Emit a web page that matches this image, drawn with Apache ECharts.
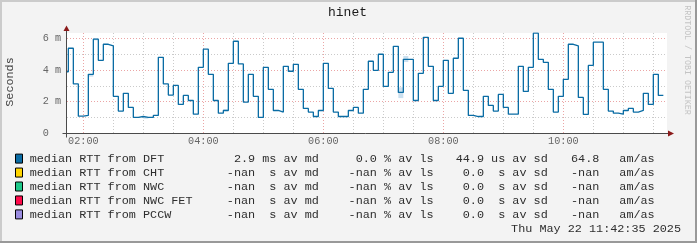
<!DOCTYPE html>
<html><head><meta charset="utf-8">
<script src="https://cdn.jsdelivr.net/npm/echarts@6/dist/echarts.min.js"></script>
<style>html,body{margin:0;padding:0;background:#F3F3F3}#c{width:697px;height:243px}</style>
</head><body><div id="c"></div>
<script>
// ---------- data ----------
const chartTitle = 'hinet';
const yAxisName = 'Seconds';
const stampText = 'Thu May 22 11:42:35 2025';
const watermark = 'RRDTOOL / TOBI OETIKER';

const startMinute = 100;      // 01:40 = start of first 5-minute step
const stepMinutes = 5;
const axisMin = 103.667;      // 01:43:40
const axisMax = 703.667;      // 11:43:40

// median RTT from DFT (ms), one value per 5-minute step
const medianDFT = [3.89,
 5.37, 3.12, 1.09, 1.14, 3.73, 5.94, 4.61, 5.62, 5.52, 2.34,
 1.41, 2.53, 1.64, 1.01, 1.07, 1.01, 1.01, 1.14, 4.80, 3.12,
 2.42, 3.03, 1.83, 2.40, 2.08, 1.22, 4.17, 5.31, 3.73, 2.08,
 1.28, 1.45, 4.42, 5.81, 4.38, 1.98, 3.73, 2.34, 1.01, 4.17,
 2.78, 1.45, 1.35, 4.23, 3.92, 4.36, 2.78, 1.58, 1.35, 1.07,
 1.45, 4.42, 2.84, 1.35, 1.07, 1.07, 1.45, 1.64, 1.28, 2.78,
 4.55, 3.98, 4.99, 2.97, 3.85, 5.49, 2.59, 4.67, 4.67, 2.08,
 3.79, 6.06, 4.23, 2.08, 2.97, 4.61, 2.53, 4.74, 6.00, 2.72,
 1.14, 1.07, 1.07, 2.34, 1.77, 1.41, 2.46, 1.64, 1.22, 1.22,
 4.23, 2.65, 4.17, 6.32, 4.67, 4.48, 2.78, 1.35, 2.34, 3.41,
 5.62, 5.52, 2.27, 1.20, 4.29, 5.75, 5.75, 2.78, 1.41, 1.28,
 1.22, 1.45, 1.58, 1.35, 1.45, 2.53, 1.83, 3.73, 2.40];

// smoke (spread) around the median: [step index, low, high] in ms
const smokeSteps = [5, 6, 16, 32, 67, 68];
const smokeLow   = [3.58, 5.87, 0.93, 1.45, 2.23, 4.50];
const smokeHigh  = [3.73, 6.00, 1.01, 1.52, 2.91, 4.88];

const xMajorMinutes = [120, 240, 360, 480, 600];
const xTickLabels = ['02:00', '04:00', '06:00', '08:00', '10:00'];
const yMax = 6.33;
const yMajorValues = [2, 4, 6];
const yMinorValues = [1, 3, 5];
const yLabelValues = [0, 2, 4, 6];
const yTickLabels = ['0  ', '2 m', '4 m', '6 m'];

const legendNames = ['median RTT from DFT', 'median RTT from CHT', 'median RTT from NWC', 'median RTT from NWC FET', 'median RTT from PCCW'];
const legendColors = ['#0a6ca4', '#FFD500', '#1FC98A', '#FF0A4A', '#9A8CE0'];
const statMedian = [' 2.9 ms av md', '-nan  s av md', '-nan  s av md', '-nan  s av md', '-nan  s av md'];
const statLoss   = [' 0.0 % av ls', '-nan % av ls', '-nan % av ls', '-nan % av ls', '-nan % av ls'];
const statSd     = ['44.9 us av sd', ' 0.0  s av sd', ' 0.0  s av sd', ' 0.0  s av sd', ' 0.0  s av sd'];
const statAmRatio = ['64.8', '-nan', '-nan', '-nan', '-nan'];
const statAmUnit = 'am/as';

// ---------- build ----------
const MONO = "'Liberation Mono','DejaVu Sans Mono',monospace";
const xMinorMinutes = [];
for (let m = 90; m < axisMax; m += 30) if (m % 120 !== 0 && m > axisMin) xMinorMinutes.push(m);

const lineData = medianDFT.map((v, i) => [startMinute + i * stepMinutes, v]);
lineData.push([startMinute + medianDFT.length * stepMinutes, medianDFT[medianDFT.length - 1]]);
const smokeData = smokeSteps.map((s, i) => [startMinute + s * stepMinutes, smokeLow[i], smokeHigh[i]]);

const chart = echarts.init(document.getElementById('c'), null, {renderer: 'canvas'});

const TEXT = '#2e2e2e';
const legendGraphics = [];
const rowY0 = 158.6, rowDy = 13.95;
legendNames.forEach((name, i) => {
  const y = rowY0 + i * rowDy;
  legendGraphics.push({type: 'rect', shape: {x: 15.5, y: y - 4.5, width: 7, height: 9},
    style: {fill: legendColors[i], stroke: '#000', lineWidth: 1}});
  const cols = [[29.7, name], [226.8, statMedian[i]], [348.6, statLoss[i]], [455.7, statSd[i]], [571, statAmRatio[i]], [619.3, statAmUnit]];
  cols.forEach(([x, t]) => legendGraphics.push({type: 'text', x: x, y: y,
    style: {text: t, fill: TEXT, font: '11.8px ' + MONO, textVerticalAlign: 'middle', textAlign: 'left'}}));
});

const option = {
  animation: false,
  backgroundColor: '#F3F3F3',
  grid: {left: 67, top: 33, width: 600, height: 100.5, show: true, backgroundColor: '#FFFFFF', borderWidth: 0},
  xAxis: [
    {type: 'value', min: axisMin, max: axisMax, position: 'bottom',
     axisLine: {show: false}, axisTick: {show: false, customValues: xMajorMinutes},
     splitLine: {show: true, lineStyle: {color: '#EBA5A5', type: [1, 2], width: 1}},
     axisLabel: {customValues: xMajorMinutes, margin: 3, color: '#666', fontFamily: MONO, fontSize: 10.2,
       formatter: v => xTickLabels[xMajorMinutes.indexOf(v)]}},
    {type: 'value', min: axisMin, max: axisMax, position: 'bottom',
     axisLine: {show: false}, axisTick: {show: false, customValues: xMinorMinutes}, axisLabel: {show: false},
     splitLine: {show: true, lineStyle: {color: '#CACACA', type: [1, 2], width: 1}}}
  ],
  yAxis: [
    {type: 'value', min: 0, max: yMax, position: 'left',
     axisLine: {show: false}, axisTick: {show: false, customValues: yMajorValues},
     splitLine: {show: true, lineStyle: {color: '#EBA5A5', type: [1, 2], width: 1}},
     axisLabel: {customValues: yLabelValues, margin: 6, color: '#666', fontFamily: MONO, fontSize: 10.2,
       formatter: v => yTickLabels[yLabelValues.indexOf(v)]}},
    {type: 'value', min: 0, max: yMax, position: 'left',
     axisLine: {show: false}, axisTick: {show: false, customValues: yMinorValues}, axisLabel: {show: false},
     splitLine: {show: true, lineStyle: {color: '#CACACA', type: [1, 2], width: 1}}}
  ],
  series: [
    {type: 'custom', xAxisIndex: 0, yAxisIndex: 0, z: 2, data: smokeData,
     renderItem: (params, api) => {
       const p0 = api.coord([api.value(0), api.value(2)]);
       const p1 = api.coord([api.value(0) + stepMinutes, api.value(1)]);
       return {type: 'rect', shape: {x: p0[0], y: p0[1], width: p1[0] - p0[0], height: p1[1] - p0[1]},
               style: {fill: '#CBE0EF'}};
     }},
    {type: 'line', xAxisIndex: 0, yAxisIndex: 0, z: 3, step: 'end', showSymbol: false, clip: true,
     data: lineData, lineStyle: {color: legendColors[0], width: 1.3}}
  ],
  graphic: [
    // frame shading
    {type: 'rect', shape: {x: 0, y: 0, width: 697, height: 2}, style: {fill: '#CBCBCB'}, z: 10},
    {type: 'rect', shape: {x: 0, y: 0, width: 2, height: 243}, style: {fill: '#CBCBCB'}, z: 10},
    {type: 'rect', shape: {x: 0, y: 241, width: 697, height: 2}, style: {fill: '#999999'}, z: 10},
    {type: 'rect', shape: {x: 695, y: 0, width: 2, height: 243}, style: {fill: '#999999'}, z: 10},
    // axes with arrows
    {type: 'line', shape: {x1: 62.5, y1: 133.5, x2: 668, y2: 133.5}, style: {stroke: '#4A4A4A', lineWidth: 1}, z: 10},
    {type: 'line', shape: {x1: 66.5, y1: 137.5, x2: 66.5, y2: 30}, style: {stroke: '#4A4A4A', lineWidth: 1}, z: 10},
    {type: 'polygon', shape: {points: [[668, 130.5], [674, 133.5], [668, 136.5]]}, style: {fill: '#8B1A1A'}, z: 11},
    {type: 'polygon', shape: {points: [[63.5, 31], [66.5, 25.5], [69.5, 31]]}, style: {fill: '#8B1A1A'}, z: 11},
    // title, unit, watermark, timestamp
    {type: 'text', x: 347.5, y: 13, style: {text: chartTitle, font: '13px ' + MONO, fill: '#1a1a1a', textAlign: 'center', textVerticalAlign: 'middle'}, z: 10},
    {type: 'text', x: 10, y: 82, rotation: Math.PI / 2, style: {text: yAxisName, font: '11.8px ' + MONO, fill: '#444', textAlign: 'center', textVerticalAlign: 'middle'}, z: 10},
    {type: 'text', x: 687, y: 60, rotation: -Math.PI / 2, style: {text: watermark, font: '8.3px ' + MONO, fill: '#C4C4C4', textAlign: 'center', textVerticalAlign: 'middle'}, z: 10},
    {type: 'text', x: 681, y: 229, style: {text: stampText, font: '11.8px ' + MONO, fill: TEXT, textAlign: 'right', textVerticalAlign: 'middle'}, z: 10}
  ].concat(legendGraphics)
};
chart.setOption(option);
</script>
</body></html>
